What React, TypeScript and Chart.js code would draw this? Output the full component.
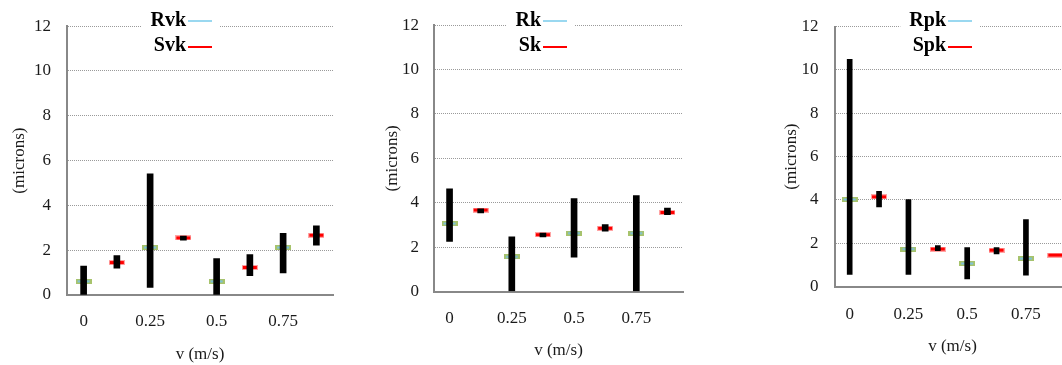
import React, { useEffect, useRef } from 'react';
import { Chart, registerables } from 'chart.js';

Chart.register(...registerables);

// ---------- data ----------
const CATEGORIES = ['0', '0.25', '0.5', '0.75'];
const Y_MIN = 0;
const Y_MAX = 12;
const Y_STEP = 2;
const X_TITLE = 'v (m/s)';
const Y_TITLE = '(microns)';

// Panel 1: Rvk / Svk
const RVK = [0.61, 2.12, 0.61, 2.12];
const RVK_LOW = [0, 0.34, 0, 0.99];
const RVK_HIGH = [1.29, 5.41, 1.63, 2.75];
const SVK = [1.45, 2.55, 1.23, 2.67];
const SVK_LOW = [1.2, 2.45, 0.86, 2.23];
const SVK_HIGH = [1.76, 2.63, 1.8, 3.09];

// Panel 2: Rk / Sk
const RK = [3.06, 1.56, 2.63, 2.63];
const RK_LOW = [2.26, 0, 1.55, 0];
const RK_HIGH = [4.63, 2.46, 4.19, 4.32];
const SK = [3.67, 2.56, 2.85, 3.56];
const SK_LOW = [3.54, 2.46, 2.72, 3.46];
const SK_HIGH = [3.72, 2.63, 3.02, 3.76];

// Panel 3: Rpk / Spk
const RPK = [4.02, 1.73, 1.06, 1.29];
const RPK_LOW = [0.56, 0.56, 0.35, 0.52];
const RPK_HIGH = [10.49, 4.02, 1.8, 3.09];
const SPK = [4.14, 1.73, 1.68, 1.45];
const SPK_LOW: (number | null)[] = [3.68, 1.66, 1.51, null];
const SPK_HIGH: (number | null)[] = [4.4, 1.89, 1.8, null];

const SERIES_NAMES = [
  ['Rvk', 'Svk'],
  ['Rk', 'Sk'],
  ['Rpk', 'Spk'],
];

// ---------- layout / style ----------
const PANELS = [
  { left: 0, width: 345, yAxisWidth: 67, padTop: 15, padRight: 12, plotBottom: 295, xTickPad: 16, yTickPad: 16, xTitlePad: 0, legendX: 188, barW: 6 },
  { left: 373, width: 327, yAxisWidth: 61, padTop: 15, padRight: 17, plotBottom: 291.5, xTickPad: 16.5, yTickPad: 15, xTitlePad: 4, legendX: 170, barW: 6 },
  { left: 772, width: 308, yAxisWidth: 63, padTop: 16, padRight: 10, plotBottom: 286.5, xTickPad: 17.5, yTickPad: 16.5, xTitlePad: 8, legendX: 176, barW: 5 },
];
const H = 365;
const FONT = "'Liberation Serif', 'Times New Roman', serif";
const TEXT_COLOR = '#1a1a1a';

function makeGreenMarker() {
  const c = document.createElement('canvas');
  c.width = 16; c.height = 5;
  const g = c.getContext('2d')!;
  g.fillStyle = '#a7c36c';
  g.fillRect(0, 0, 16, 5);
  g.fillStyle = '#7dc1dc';
  g.fillRect(2, 1.5, 12, 2);
  return c;
}
function makeRedMarker() {
  const c = document.createElement('canvas');
  c.width = 16; c.height = 5;
  const g = c.getContext('2d')!;
  g.fillStyle = 'rgba(255,90,90,0.55)';
  g.fillRect(0, 0, 16, 5);
  g.fillStyle = '#ff0000';
  g.fillRect(1, 1, 14, 3);
  return c;
}

function buildChart(canvas: HTMLCanvasElement, idx: number,
  r: number[], rLo: (number | null)[], rHi: (number | null)[],
  s: number[], sLo: (number | null)[], sHi: (number | null)[]) {
  const p = PANELS[idx];
  const names = SERIES_NAMES[idx];
  const labels = CATEGORIES.flatMap((c) => [c, '']);
  const rData = r.flatMap((v) => [v, null]);
  const sData = s.flatMap((v) => [null, v]);
  const bars = r.flatMap((_, i) => [
    rLo[i] == null ? null : [rLo[i], rHi[i]],
    sLo[i] == null ? null : [sLo[i], sHi[i]],
  ]);

  const legendPlugin = {
    id: 'customLegend' + idx,
    afterDraw(chart: any) {
      const ctx = chart.ctx as CanvasRenderingContext2D;
      ctx.save();
      ctx.font = `bold 20px ${FONT}`;
      const w = Math.max(...names.map((n) => ctx.measureText(n).width));
      const x0 = p.legendX;
      ctx.fillStyle = '#ffffff';
      ctx.fillRect(x0 - 2 - w - 9, 6, w + 9 + 2 + 24 + 7, 50);
      const rows = [
        { name: names[0], color: '#9ad8f0', baseY: 26, lineY: 21 },
        { name: names[1], color: '#ff0000', baseY: 51, lineY: 47 },
      ];
      for (const row of rows) {
        ctx.fillStyle = '#000';
        ctx.textAlign = 'right';
        ctx.textBaseline = 'alphabetic';
        ctx.fillText(row.name, x0 - 2, row.baseY);
        ctx.strokeStyle = row.color;
        ctx.lineWidth = 2;
        ctx.beginPath();
        ctx.moveTo(x0, row.lineY);
        ctx.lineTo(x0 + 24, row.lineY);
        ctx.stroke();
      }
      ctx.restore();
    },
  };

  return new Chart(canvas, {
    type: 'bar',
    data: {
      labels,
      datasets: [
        {
          type: 'bar',
          label: 'range',
          data: bars as any,
          backgroundColor: '#000000',
          borderWidth: 0,
          barThickness: p.barW,
          grouped: false,
          order: 0,
        } as any,
        {
          type: 'line',
          label: names[0],
          data: rData,
          showLine: false,
          pointStyle: makeGreenMarker(),
          pointRadius: 8,
          order: 1,
        } as any,
        {
          type: 'line',
          label: names[1],
          data: sData,
          showLine: false,
          pointStyle: makeRedMarker(),
          pointRadius: 8,
          order: 2,
        } as any,
      ],
    },
    options: {
      responsive: false,
      animation: false,
      devicePixelRatio: 1,
      layout: { padding: { top: p.padTop, right: p.padRight, bottom: 0, left: 0 } },
      plugins: { legend: { display: false }, tooltip: { enabled: false } },
      scales: {
        x: {
          type: 'category',
          offset: true,
          grid: { display: false, drawTicks: false },
          border: { color: '#888888', width: 2 },
          ticks: {
            autoSkip: false,
            maxRotation: 0,
            minRotation: 0,
            padding: p.xTickPad,
            color: TEXT_COLOR,
            font: { family: FONT, size: 17 },
          },
          title: {
            display: true,
            text: X_TITLE,
            color: TEXT_COLOR,
            font: { family: FONT, size: 17 },
            padding: { top: 0, bottom: p.xTitlePad },
          },
          afterFit: (scale: any) => { scale.height = H - p.plotBottom; },
        },
        y: {
          type: 'linear',
          min: Y_MIN,
          max: Y_MAX,
          grid: { color: '#9a9a9a', lineWidth: 1, drawTicks: false },
          border: { color: '#888888', width: 2, dash: [1, 1] },
          ticks: {
            stepSize: Y_STEP,
            padding: p.yTickPad,
            color: TEXT_COLOR,
            font: { family: FONT, size: 17 },
          },
          title: {
            display: true,
            text: Y_TITLE,
            color: TEXT_COLOR,
            font: { family: FONT, size: 17 },
            padding: { top: 9, bottom: 0 },
          },
          afterFit: (scale: any) => { scale.width = p.yAxisWidth; },
        },
      },
    } as any,
    plugins: [legendPlugin],
  });
}

export default function App() {
  const c1 = useRef<HTMLCanvasElement>(null);
  const c2 = useRef<HTMLCanvasElement>(null);
  const c3 = useRef<HTMLCanvasElement>(null);

  useEffect(() => {
    const charts = [
      buildChart(c1.current!, 0, RVK, RVK_LOW, RVK_HIGH, SVK, SVK_LOW, SVK_HIGH),
      buildChart(c2.current!, 1, RK, RK_LOW, RK_HIGH, SK, SK_LOW, SK_HIGH),
      buildChart(c3.current!, 2, RPK, RPK_LOW, RPK_HIGH, SPK, SPK_LOW, SPK_HIGH),
    ];
    return () => charts.forEach((c) => c.destroy());
  }, []);

  const refs = [c1, c2, c3];
  return (
    <div style={{ position: 'fixed', left: 0, top: 0, width: 1062, height: H, overflow: 'hidden', background: '#fff' }}>
      {PANELS.map((p, i) => (
        <canvas
          key={i}
          ref={refs[i]}
          width={p.width}
          height={H}
          style={{ position: 'absolute', left: p.left, top: 0, width: p.width, height: H }}
        />
      ))}
    </div>
  );
}
